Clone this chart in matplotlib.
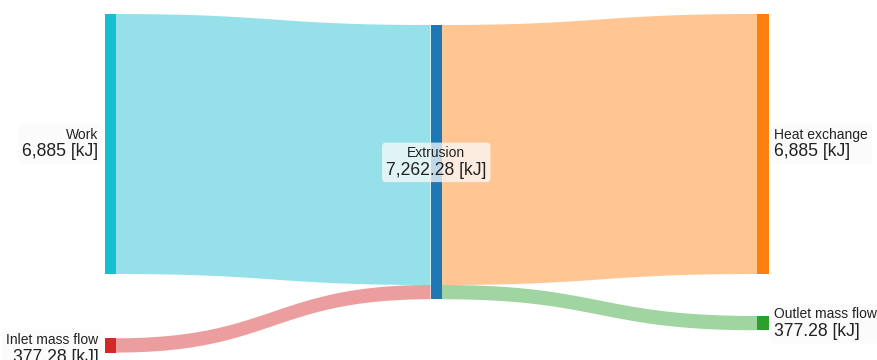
import matplotlib
matplotlib.use("Agg")
import matplotlib.pyplot as plt
import numpy as np
from matplotlib.patches import Rectangle, Polygon, FancyBboxPatch
from matplotlib.transforms import Bbox

# Energy balance of the extrusion step
node_labels = ["Work", "Inlet mass flow", "Extrusion", "Heat exchange", "Outlet mass flow"]
node_colors = ["#17becf", "#d62728", "#1f77b4", "#ff7f0e", "#2ca02c"]
link_sources = [0, 1, 2, 2]
link_targets = [2, 2, 3, 4]
link_values = [6885, 377.28, 6885, 377.28]
link_colors = ["#17becf", "#d62728", "#ff7f0e", "#2ca02c"]
unit = "[kJ]"

# Layout (pixel space of the canvas)
W, H = 877, 360
node_x = [104.5, 104.5, 430.5, 757, 757]
node_top = [14, 338.3, 25, 14, 316]
node_w = 11.5
px_per_kj = 260.0 / 6885.0
label_side = ["left", "left", "center", "right", "right"]
label_dy = [0, 4, 0, 0, 0]

plt.rcParams["font.family"] = ["Liberation Sans", "DejaVu Sans"]

fig = plt.figure(figsize=(W / 100, H / 100), dpi=100)
ax = fig.add_axes([0, 0, 1, 1])
ax.set_xlim(0, W)
ax.set_ylim(H, 0)
ax.axis("off")

n = len(node_labels)
inflow = np.zeros(n)
outflow = np.zeros(n)
for s, t, v in zip(link_sources, link_targets, link_values):
    outflow[s] += v
    inflow[t] += v
node_val = np.maximum(inflow, outflow)
node_h = node_val * px_per_kj

# Links: cubic Bezier bands stacked on each node in order
out_off = np.zeros(n)
in_off = np.zeros(n)
tt = np.linspace(0, 1, 80)


def bez(p0, p1, t):
    xm = (p0[0] + p1[0]) / 2
    x = (1 - t) ** 3 * p0[0] + 3 * (1 - t) ** 2 * t * xm + 3 * (1 - t) * t ** 2 * xm + t ** 3 * p1[0]
    y = (1 - t) ** 3 * p0[1] + 3 * (1 - t) ** 2 * t * p0[1] + 3 * (1 - t) * t ** 2 * p1[1] + t ** 3 * p1[1]
    return x, y


for s, t, v, c in zip(link_sources, link_targets, link_values, link_colors):
    h = v * px_per_kj
    x0 = node_x[s] + node_w
    x1 = node_x[t]
    y0 = node_top[s] + out_off[s]
    y1 = node_top[t] + in_off[t]
    out_off[s] += h
    in_off[t] += h
    xt, yt = bez((x0, y0), (x1, y1), tt)
    xb, yb = bez((x0, y0 + h), (x1, y1 + h), tt)
    pts = np.vstack([np.column_stack([xt, yt]), np.column_stack([xb, yb])[::-1]])
    ax.add_patch(Polygon(pts, closed=True, facecolor=c, alpha=0.45, edgecolor="none", zorder=1))

# Nodes
for i in range(n):
    ax.add_patch(Rectangle((node_x[i], node_top[i]), node_w, node_h[i],
                           facecolor=node_colors[i], edgecolor="none", zorder=2))


def fmt(v):
    s = f"{v:,.2f}"
    return s.rstrip("0").rstrip(".")


texts = []
for i in range(n):
    cy = node_top[i] + node_h[i] / 2 + label_dy[i]
    if label_side[i] == "left":
        x, ha = node_x[i] - 6, "right"
    elif label_side[i] == "right":
        x, ha = node_x[i] + node_w + 6, "left"
    else:
        x, ha = node_x[i] + node_w / 2, "center"
    t1 = ax.text(x, cy - 5, node_labels[i], ha=ha, va="baseline", fontsize=10,
                 color="#222222", zorder=4)
    t2 = ax.text(x, cy + 12.5, f"{fmt(node_val[i])} {unit}", ha=ha, va="baseline",
                 fontsize=12.7, color="#222222", zorder=4)
    texts.append((t1, t2))

fig.canvas.draw()
renderer = fig.canvas.get_renderer()
inv = ax.transData.inverted()
for t1, t2 in texts:
    bb = Bbox.union([t1.get_window_extent(renderer), t2.get_window_extent(renderer)])
    (xa, ya), (xb, yb) = inv.transform([[bb.x0, bb.y0], [bb.x1, bb.y1]])
    x0, x1 = min(xa, xb), max(xa, xb)
    y0, y1 = min(ya, yb), max(ya, yb)
    ax.add_patch(FancyBboxPatch((x0 - 4, y0 - 3.5), x1 - x0 + 8, y1 - y0 + 7,
                                boxstyle="round,pad=0,rounding_size=4",
                                facecolor="#fafafa", alpha=0.75, edgecolor="none", zorder=3))

fig.savefig("out.png", dpi=100)
